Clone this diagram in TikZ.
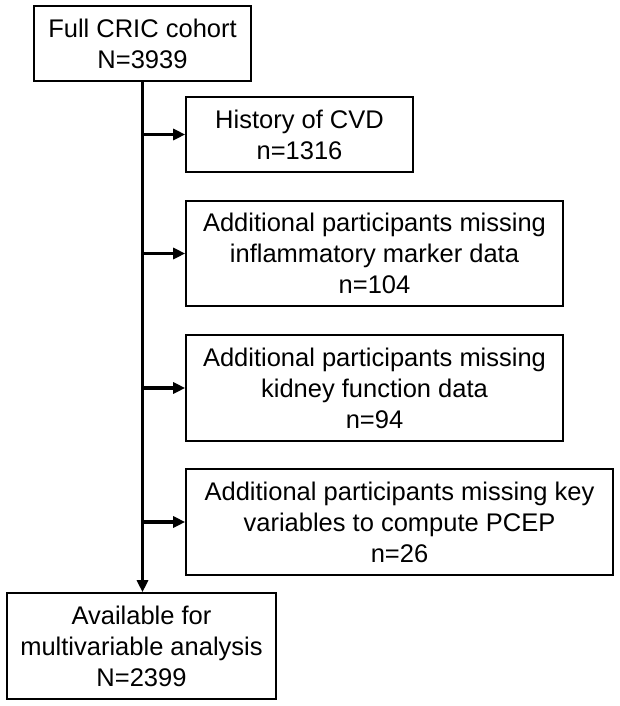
\documentclass[tikz,border=0pt]{standalone}
\usepackage{fontspec}
\setmainfont{Liberation Sans}
\usetikzlibrary{arrows.meta}
\begin{document}
\begin{tikzpicture}[x=1pt,y=-1pt,>={Triangle[length=12pt,width=11pt]},
	box/.style={draw,line width=1.6pt,align=center,inner sep=0pt,font=\fontsize{25.5}{31}\selectfont},
	flow/.style={->,line width=3.5pt}]
	\useasboundingbox (0,0) rectangle (620,706);
	\node[box,minimum width=217,minimum height=75] (full) at (142.5,43.5) {Full CRIC cohort\\N=3939};
	\node[box,minimum width=227,minimum height=75] (cvd) at (299.5,134.5) {History of CVD\\n=1316};
	\node[box,minimum width=377,minimum height=105] (infl) at (374.5,253.5) {Additional participants missing\\inflammatory marker data\\n=104};
	\node[box,minimum width=377,minimum height=106] (kidney) at (374.5,388) {Additional participants missing\\kidney function data\\n=94};
	\node[box,minimum width=427,minimum height=106] (pcep) at (399.5,522) {Additional participants missing key\\variables to compute PCEP\\n=26};
	\node[box,minimum width=269,minimum height=106] (avail) at (141.5,646) {Available for\\multivariable analysis\\N=2399};

	\draw[flow] (full.south) -- (full.south |- avail.north);
	\foreach \b in {cvd,infl,kidney,pcep}
		\draw[flow] (full.south |- \b.west) -- (\b.west);
\end{tikzpicture}
\end{document}
